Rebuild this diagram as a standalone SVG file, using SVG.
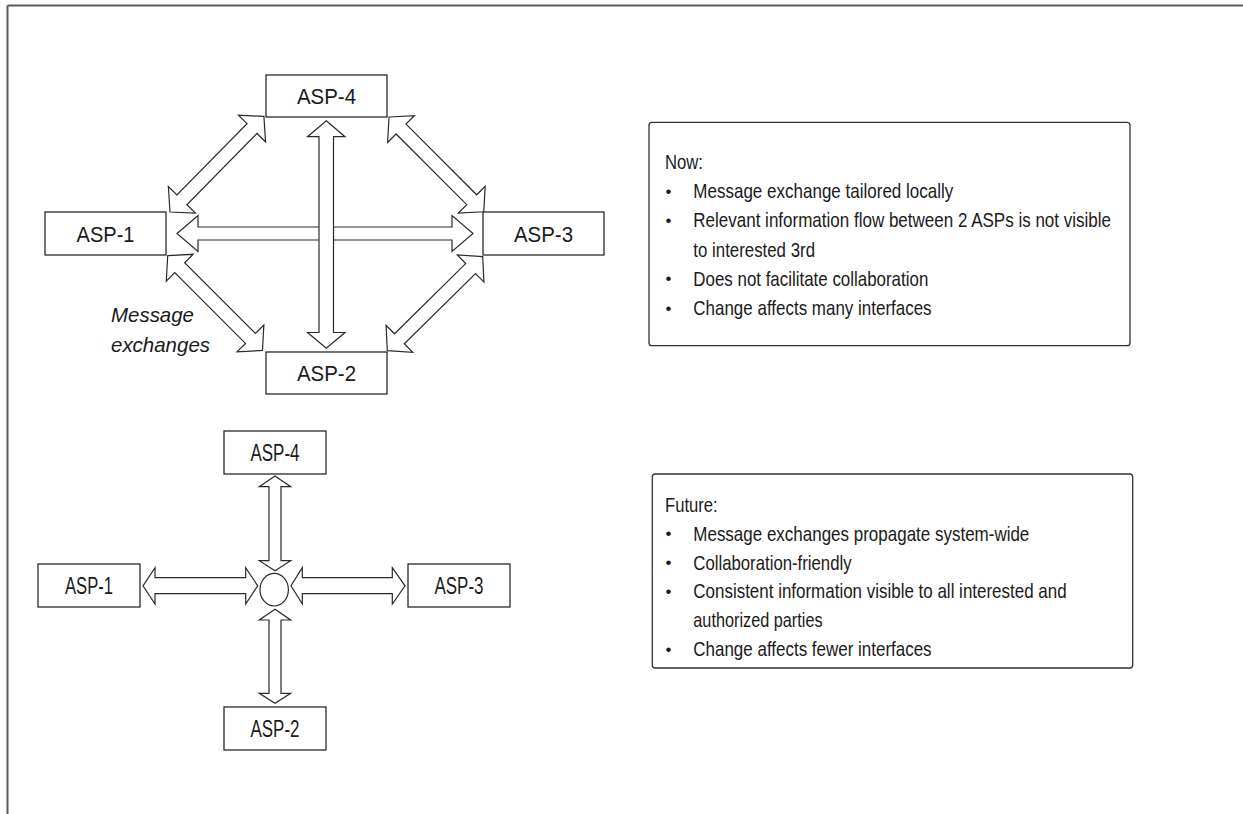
<svg xmlns="http://www.w3.org/2000/svg" width="1243" height="814" viewBox="0 0 1243 814">
<style>
.frame{fill:none;stroke:#5a5a5a;stroke-width:2}
.node{fill:#fff;stroke:#2a2a2a;stroke-width:1.3}
.arr{fill:#fff;stroke:#2a2a2a;stroke-width:1.2;stroke-linejoin:miter}
.lbl{font-family:"Liberation Sans",Arial,sans-serif;font-size:22px;fill:#1a1a1a;text-anchor:middle}
.lbl2{font-family:"Liberation Sans",Arial,sans-serif;font-size:23px;fill:#1a1a1a;text-anchor:middle}
.txt{font-family:"Liberation Sans",Arial,sans-serif;font-size:21px;fill:#1a1a1a}
.bul{font-family:"Liberation Sans",Arial,sans-serif;font-size:17px;fill:#1a1a1a;text-anchor:middle}
.it{font-family:"Liberation Sans",Arial,sans-serif;font-size:21px;font-style:italic;fill:#1a1a1a}
.panel{fill:#fff;stroke:#333;stroke-width:1.3}
</style>
<defs>
<polygon id="diag" class="arr" points="0,0 17,-19 17,-7 117,-7 117,-19 134,0 117,19 117,7 17,7 17,19"/>
</defs>
<rect x="0" y="0" width="1243" height="814" fill="#fff"/>
<g id="frame">
<line class="frame" x1="7.5" y1="5.5" x2="1243" y2="5.5"/>
<line class="frame" x1="7.5" y1="5.5" x2="7.5" y2="814"/>
</g>
<g id="connectors">
<polygon class="arr" points="177,233.5 198,215.5 198,227 452,227 452,215.5 473,233.5 452,251.5 452,240 198,240 198,251.5"/>
<polygon class="arr" points="326.3,120.7 345,136.7 333.5,136.7 333.5,332.5 345,332.5 326.3,348.3 307.5,332.5 319,332.5 319,136.7 307.5,136.7"/>
<use href="#diag" transform="translate(170,212) rotate(-45.5)"/>
<use href="#diag" transform="translate(389,117) rotate(45)"/>
<use href="#diag" transform="translate(167.7,255.7) rotate(45)"/>
<use href="#diag" transform="translate(387.3,350.7) rotate(-44.6)"/>
<polygon class="arr" points="275,476 290.7,486.7 281,486.7 281,560.7 290.7,560.7 275,570.7 259.3,560.7 269,560.7 269,486.7 259.3,486.7"/>
<polygon class="arr" points="275,609.3 290.7,620 281,620 281,693.3 290.7,693.3 275,703.3 259.3,693.3 269,693.3 269,620 259.3,620"/>
<polygon class="arr" points="143,585.8 155,567.7 155,577.7 245.7,577.7 245.7,567.7 257.7,585.8 245.7,604 245.7,593.7 155,593.7 155,604"/>
<polygon class="arr" points="291,585.8 302.3,567.7 302.3,577.7 392.3,577.7 392.3,567.7 405,585.8 392.3,604 392.3,593.7 302.3,593.7 302.3,604"/>
</g>
<g id="hub">
<ellipse class="arr" cx="274.2" cy="589.7" rx="14.2" ry="16.3"/>
</g>
<g id="top-asp4"><rect class="node" x="266" y="75" width="121" height="42"/><text class="lbl" x="326.5" y="104" textLength="59" lengthAdjust="spacingAndGlyphs">ASP-4</text></g>
<g id="top-asp1"><rect class="node" x="45" y="212" width="121" height="43"/><text class="lbl" x="105.5" y="241.5" textLength="58" lengthAdjust="spacingAndGlyphs">ASP-1</text></g>
<g id="top-asp3"><rect class="node" x="483" y="212" width="121" height="43"/><text class="lbl" x="543.5" y="241.5" textLength="59" lengthAdjust="spacingAndGlyphs">ASP-3</text></g>
<g id="top-asp2"><rect class="node" x="266" y="352" width="121" height="42"/><text class="lbl" x="326.5" y="381" textLength="59" lengthAdjust="spacingAndGlyphs">ASP-2</text></g>
<g id="label-message">
<text class="it" x="111" y="321.7" textLength="83" lengthAdjust="spacingAndGlyphs">Message</text>
<text class="it" x="111" y="351.7" textLength="99" lengthAdjust="spacingAndGlyphs">exchanges</text>
</g>
<g id="bot-asp4"><rect class="node" x="224" y="431" width="102" height="43"/><text class="lbl2" x="275" y="461" textLength="49" lengthAdjust="spacingAndGlyphs">ASP-4</text></g>
<g id="bot-asp1"><rect class="node" x="38" y="564" width="102" height="43"/><text class="lbl2" x="89" y="594" textLength="48" lengthAdjust="spacingAndGlyphs">ASP-1</text></g>
<g id="bot-asp3"><rect class="node" x="408" y="564" width="102" height="43"/><text class="lbl2" x="459" y="594" textLength="49" lengthAdjust="spacingAndGlyphs">ASP-3</text></g>
<g id="bot-asp2"><rect class="node" x="224" y="707" width="102" height="43"/><text class="lbl2" x="275" y="737" textLength="49" lengthAdjust="spacingAndGlyphs">ASP-2</text></g>
<g id="now-panel">
<rect class="panel" x="649" y="122.3" width="481" height="223.4" rx="3"/>
<text class="txt" x="665" y="169.3" textLength="38" lengthAdjust="spacingAndGlyphs">Now:</text>
<text class="bul" x="668.5" y="197">•</text>
<text class="txt" x="693.3" y="198.3" textLength="260" lengthAdjust="spacingAndGlyphs">Message exchange tailored locally</text>
<text class="bul" x="668.5" y="226">•</text>
<text class="txt" x="693.3" y="227.3" textLength="417.7" lengthAdjust="spacingAndGlyphs">Relevant information flow between 2 ASPs is not visible</text>
<text class="txt" x="693.3" y="256.5" textLength="121.7" lengthAdjust="spacingAndGlyphs">to interested 3rd</text>
<text class="bul" x="668.5" y="284.4">•</text>
<text class="txt" x="693.3" y="285.7" textLength="235" lengthAdjust="spacingAndGlyphs">Does not facilitate collaboration</text>
<text class="bul" x="668.5" y="313.7">•</text>
<text class="txt" x="693.3" y="315" textLength="238.3" lengthAdjust="spacingAndGlyphs">Change affects many interfaces</text>
</g>
<g id="future-panel">
<rect class="panel" x="652.3" y="474" width="480.4" height="194" rx="3"/>
<text class="txt" x="665" y="511.7" textLength="52.7" lengthAdjust="spacingAndGlyphs">Future:</text>
<text class="bul" x="668.5" y="539.4">•</text>
<text class="txt" x="693.3" y="540.7" textLength="336" lengthAdjust="spacingAndGlyphs">Message exchanges propagate system-wide</text>
<text class="bul" x="668.5" y="568.2">•</text>
<text class="txt" x="693.3" y="569.5" textLength="158.3" lengthAdjust="spacingAndGlyphs">Collaboration-friendly</text>
<text class="bul" x="668.5" y="597">•</text>
<text class="txt" x="693.3" y="598.3" textLength="373.3" lengthAdjust="spacingAndGlyphs">Consistent information visible to all interested and</text>
<text class="txt" x="693.3" y="627.3" textLength="129.3" lengthAdjust="spacingAndGlyphs">authorized parties</text>
<text class="bul" x="668.5" y="655">•</text>
<text class="txt" x="693.3" y="656.3" textLength="238.3" lengthAdjust="spacingAndGlyphs">Change affects fewer interfaces</text>
</g>
</svg>
